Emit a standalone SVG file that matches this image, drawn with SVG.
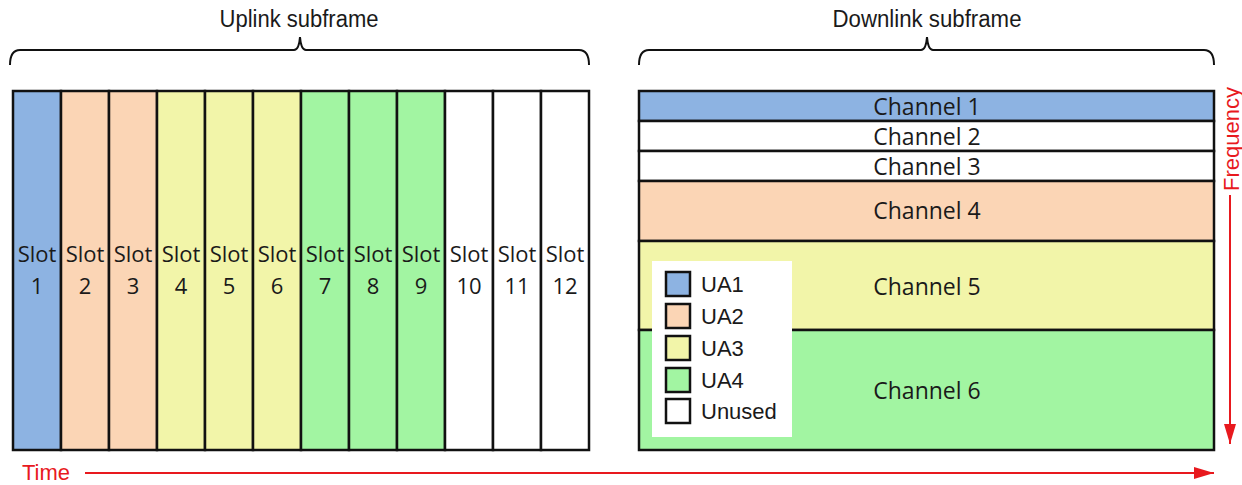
<svg xmlns="http://www.w3.org/2000/svg" width="1242" height="485" viewBox="0 0 1242 485">
  <defs>
    <style>
      .ua1 { fill: #8DB3E2; }
      .ua2 { fill: #FBD5B5; }
      .ua3 { fill: #F2F5A9; }
      .ua4 { fill: #A2F5A2; }
      .unused { fill: #FFFFFF; }
      .cell { stroke: #111111; stroke-width: 2.5; }
      .slot { font-family: "Open Sans", "Liberation Sans", sans-serif; font-size: 22px; fill: #1a1a1a; text-anchor: middle; }
      .chan { font-family: "Open Sans", "Liberation Sans", sans-serif; font-size: 23px; fill: #1a1a1a; text-anchor: middle; }
      .title { font-family: "Liberation Sans", Arial, sans-serif; font-size: 23px; fill: #1a1a1a; text-anchor: middle; }
      .legend { font-family: "Liberation Sans", Arial, sans-serif; font-size: 22px; fill: #1a1a1a; }
      .axis { font-family: "Liberation Sans", Arial, sans-serif; font-size: 22px; fill: #E8191E; }
      .brace { fill: none; stroke: #111111; stroke-width: 2; }
      .arrow { stroke: #E8191E; stroke-width: 2; fill: none; }
    </style>
    <marker id="redHead" viewBox="0 0 20 12" refX="20" refY="6" markerWidth="20" markerHeight="12" markerUnits="userSpaceOnUse" orient="auto">
      <path d="M0,0 L20,6 L0,12 Z" fill="#E8191E"/>
    </marker>
  </defs>

  <rect width="1242" height="485" fill="#FFFFFF"/>

  <!-- Uplink subframe heading and brace -->
  <g id="uplink-title">
    <text class="title" x="299" y="27" textLength="159" lengthAdjust="spacingAndGlyphs">Uplink subframe</text>
    <path class="brace" d="M10,65 Q10,50 20,50 L294,50 Q299,50 300,37 Q301,50 306,50 L579,50 Q589,50 589,65"/>
  </g>

  <!-- Downlink subframe heading and brace -->
  <g id="downlink-title">
    <text class="title" x="927" y="27" textLength="189" lengthAdjust="spacingAndGlyphs">Downlink subframe</text>
    <path class="brace" d="M639,65 Q639,50 649,50 L921,50 Q926,50 927,37 Q928,50 933,50 L1204,50 Q1214,50 1214,65"/>
  </g>

  <!-- Uplink slots -->
  <g id="slot-1"><rect class="cell ua1" x="13" y="91" width="48" height="359"/><text class="slot" x="37" y="262">Slot</text><text class="slot" x="37" y="294">1</text></g>
  <g id="slot-2"><rect class="cell ua2" x="61" y="91" width="48" height="359"/><text class="slot" x="85" y="262">Slot</text><text class="slot" x="85" y="294">2</text></g>
  <g id="slot-3"><rect class="cell ua2" x="109" y="91" width="48" height="359"/><text class="slot" x="133" y="262">Slot</text><text class="slot" x="133" y="294">3</text></g>
  <g id="slot-4"><rect class="cell ua3" x="157" y="91" width="48" height="359"/><text class="slot" x="181" y="262">Slot</text><text class="slot" x="181" y="294">4</text></g>
  <g id="slot-5"><rect class="cell ua3" x="205" y="91" width="48" height="359"/><text class="slot" x="229" y="262">Slot</text><text class="slot" x="229" y="294">5</text></g>
  <g id="slot-6"><rect class="cell ua3" x="253" y="91" width="48" height="359"/><text class="slot" x="277" y="262">Slot</text><text class="slot" x="277" y="294">6</text></g>
  <g id="slot-7"><rect class="cell ua4" x="301" y="91" width="48" height="359"/><text class="slot" x="325" y="262">Slot</text><text class="slot" x="325" y="294">7</text></g>
  <g id="slot-8"><rect class="cell ua4" x="349" y="91" width="48" height="359"/><text class="slot" x="373" y="262">Slot</text><text class="slot" x="373" y="294">8</text></g>
  <g id="slot-9"><rect class="cell ua4" x="397" y="91" width="48" height="359"/><text class="slot" x="421" y="262">Slot</text><text class="slot" x="421" y="294">9</text></g>
  <g id="slot-10"><rect class="cell unused" x="445" y="91" width="48" height="359"/><text class="slot" x="469" y="262">Slot</text><text class="slot" x="469" y="294">10</text></g>
  <g id="slot-11"><rect class="cell unused" x="493" y="91" width="48" height="359"/><text class="slot" x="517" y="262">Slot</text><text class="slot" x="517" y="294">11</text></g>
  <g id="slot-12"><rect class="cell unused" x="541" y="91" width="48" height="359"/><text class="slot" x="565" y="262">Slot</text><text class="slot" x="565" y="294">12</text></g>

  <!-- Downlink channels -->
  <g id="channel-1"><rect class="cell ua1" x="639" y="91" width="575" height="30"/><text class="chan" x="927" y="115">Channel 1</text></g>
  <g id="channel-2"><rect class="cell unused" x="639" y="121" width="575" height="30"/><text class="chan" x="927" y="145">Channel 2</text></g>
  <g id="channel-3"><rect class="cell unused" x="639" y="151" width="575" height="30"/><text class="chan" x="927" y="175">Channel 3</text></g>
  <g id="channel-4"><rect class="cell ua2" x="639" y="181" width="575" height="60"/><text class="chan" x="927" y="219">Channel 4</text></g>
  <g id="channel-5"><rect class="cell ua3" x="639" y="241" width="575" height="89"/><text class="chan" x="927" y="295">Channel 5</text></g>
  <g id="channel-6"><rect class="cell ua4" x="639" y="330" width="575" height="120"/><text class="chan" x="927" y="399">Channel 6</text></g>

  <!-- Legend -->
  <g id="legend">
    <rect x="652" y="261" width="140" height="176" fill="#FFFFFF"/>
    <rect class="cell ua1" x="666" y="272" width="24" height="24"/><text class="legend" x="701" y="292">UA1</text>
    <rect class="cell ua2" x="666" y="304" width="24" height="24"/><text class="legend" x="701" y="324">UA2</text>
    <rect class="cell ua3" x="666" y="336" width="24" height="24"/><text class="legend" x="701" y="356">UA3</text>
    <rect class="cell ua4" x="666" y="368" width="24" height="24"/><text class="legend" x="701" y="388">UA4</text>
    <rect class="cell unused" x="666" y="399" width="24" height="24"/><text class="legend" x="701" y="419">Unused</text>
  </g>

  <!-- Axes -->
  <g id="connectors">
    <line class="arrow" x1="85" y1="473" x2="1214" y2="473" marker-end="url(#redHead)"/>
    <line class="arrow" x1="1230" y1="195" x2="1230" y2="444" marker-end="url(#redHead)"/>
  </g>
  <g id="time-label">
    <text class="axis" x="22" y="480">Time</text>
  </g>
  <g id="frequency-label">
    <text class="axis" transform="translate(1239,191) rotate(-90)">Frequency</text>
  </g>
</svg>
